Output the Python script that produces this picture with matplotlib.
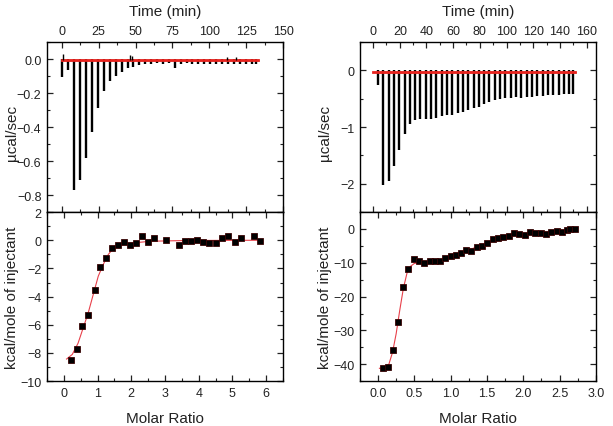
import matplotlib
matplotlib.use("Agg")
import matplotlib.pyplot as plt
from matplotlib.ticker import MultipleLocator

plt.rcParams['font.family'] = ['Liberation Sans', 'DejaVu Sans']

# ---- left experiment: raw heat (time, peak height)
t_left = [0.2, 4.5, 8.3, 12.4, 16.4, 20.5, 24.5, 28.6, 32.7, 36.5, 40.5, 44.6,
          48.6, 52.5, 56.5, 60.6, 64.6, 68.7, 72.7, 76.6, 80.6, 84.7, 88.5,
          92.6, 96.6, 100.7, 104.7, 108.8, 112.8, 116.9, 120.9, 124.8, 128.8, 132.0]
h_left = [-0.105, -0.065, -0.77, -0.71, -0.58, -0.43, -0.29, -0.19, -0.13, -0.10,
          -0.075, -0.055, -0.045, -0.036, -0.028, -0.026, -0.022, -0.028, -0.02,
          -0.055, -0.026, -0.022, -0.026, -0.026, -0.026, -0.028, -0.03, -0.028,
          -0.028, -0.028, -0.03, -0.028, -0.026, -0.03]
blip_t = [0.5, 46.5, 47.5, 112.0, 118.0]
blip_h = [0.03, 0.025, 0.02, 0.012, 0.01]

# left experiment: integrated heats
mr_left = [0.2, 0.38, 0.55, 0.73, 0.91, 1.08, 1.26, 1.44, 1.61, 1.79, 1.96, 2.14,
           2.32, 2.5, 2.68, 3.04, 3.42, 3.6, 3.77, 3.95, 4.13, 4.31, 4.5, 4.69,
           4.88, 5.07, 5.24, 5.63, 5.82]
q_left = [-8.5, -7.71, -6.12, -5.31, -3.52, -1.93, -1.29, -0.52, -0.33, -0.14,
          -0.33, -0.17, 0.33, -0.12, 0.17, 0.02, -0.31, -0.07, -0.05, 0.05, -0.12,
          -0.17, -0.21, 0.17, 0.33, -0.1, 0.17, 0.31, -0.02]
fit_x_left = [0.08, 0.25, 0.42, 0.57, 0.72, 0.87, 1.02, 1.17, 1.32, 1.47, 1.67,
              1.97, 2.57, 3.57, 4.5, 5.87]
fit_y_left = [-8.43, -8.1, -7.31, -6.24, -5.17, -3.86, -2.55, -1.71, -1.0, -0.57,
              -0.36, -0.21, -0.07, -0.02, -0.01, 0.0]

# ---- right experiment: raw heat
t_right = [3.7, 7.7, 11.7, 15.7, 19.7, 23.7, 27.7, 31.4, 35.4, 39.4, 43.4, 47.4,
           51.3, 55.3, 59.3, 63.3, 67.3, 71.3, 75.3, 79.3, 83.2, 87.2, 91.2, 95.2,
           99.2, 103.2, 107.2, 111.2, 115.1, 119.1, 123.1, 127.1, 131.1, 135.1,
           139.1, 143.0, 146.5, 150.0]
h_right = [-0.26, -2.03, -1.96, -1.69, -1.41, -1.12, -0.94, -0.87, -0.86, -0.86,
           -0.85, -0.84, -0.81, -0.79, -0.78, -0.75, -0.74, -0.69, -0.66, -0.64,
           -0.59, -0.55, -0.53, -0.51, -0.49, -0.48, -0.47, -0.48, -0.46, -0.46,
           -0.45, -0.45, -0.44, -0.44, -0.43, -0.42, -0.42, -0.41]

# right experiment: integrated heats
mr_right = [0.07, 0.14, 0.21, 0.28, 0.35, 0.42, 0.49, 0.57, 0.64, 0.71, 0.78, 0.85,
            0.92, 1.0, 1.07, 1.14, 1.21, 1.28, 1.36, 1.43, 1.5, 1.58, 1.65, 1.72,
            1.8, 1.87, 1.94, 2.02, 2.09, 2.16, 2.24, 2.31, 2.38, 2.46, 2.53, 2.6,
            2.65, 2.71]
q_right = [-41.0, -40.8, -35.7, -27.6, -17.1, -11.7, -9.0, -9.5, -10.0, -9.6, -9.5,
           -9.5, -8.6, -7.9, -7.6, -7.1, -6.2, -6.6, -5.2, -5.1, -4.0, -2.9, -2.75,
           -2.5, -2.0, -1.2, -1.6, -1.8, -1.0, -1.2, -1.1, -1.4, -1.0, -0.5, -0.8,
           -0.2, 0.0, 0.0]
fit_x_right = [0.02, 0.1, 0.15, 0.2, 0.25, 0.3, 0.35, 0.4, 0.45, 0.5, 0.6, 0.7, 0.8,
               0.9, 1.0, 1.1, 1.2, 1.3, 1.4, 1.5, 1.6, 1.7, 1.8, 1.9, 2.0, 2.1, 2.2,
               2.3, 2.4, 2.5, 2.6, 2.71]
fit_y_right = [-41.2, -40.9, -40.0, -36.5, -31.0, -24.0, -17.5, -13.0, -11.0, -10.2,
               -9.8, -9.6, -9.4, -9.0, -8.2, -7.4, -6.6, -5.8, -5.0, -4.1, -3.2, -2.6,
               -2.1, -1.6, -1.4, -1.2, -1.1, -1.0, -0.8, -0.5, -0.3, -0.05]

fig = plt.figure(figsize=(6.13, 4.27), dpi=100)

def style(ax, xmaj, xmin, ymaj, ymin):
    ax.xaxis.set_major_locator(MultipleLocator(xmaj))
    ax.xaxis.set_minor_locator(MultipleLocator(xmin))
    ax.yaxis.set_major_locator(MultipleLocator(ymaj))
    ax.yaxis.set_minor_locator(MultipleLocator(ymin))
    ax.tick_params(which='both', direction='in', top=True, bottom=True,
                   left=True, right=True, labelsize=9, colors='#222222', pad=4)
    ax.tick_params(which='major', length=4, width=0.9)
    ax.tick_params(which='minor', length=2.5, width=0.8)
    for s in ax.spines.values():
        s.set_linewidth(1.0)

def raw_panel(rect, t, h, xlim, ylim, xmaj, xmin, ymaj, ymin, fmt, base_end, base_y):
    ax = fig.add_axes(rect)
    ax.vlines(t, 0, h, color='black', lw=1.7)
    ax.plot([t[0], t[-1] + 1], [base_y, base_y], color='black', lw=1.0)
    ax.plot([0, base_end], [base_y, base_y], color='#e8231e', lw=2.0)
    ax.set_xlim(*xlim)
    ax.set_ylim(*ylim)
    style(ax, xmaj, xmin, ymaj, ymin)
    ax.tick_params(labeltop=True, labelbottom=False)
    ax.yaxis.set_major_formatter(fmt)
    ax.xaxis.set_label_position('top')
    ax.set_xlabel('Time (min)', fontsize=11, labelpad=7, color='#222222')
    ax.set_ylabel('µcal/sec', fontsize=11, color='#222222')
    ax.yaxis.set_label_coords(-0.12, 0.47)
    return ax

def heat_panel(rect, x, y, fx, fy, xlim, ylim, xmaj, xmin, ymaj, ymin, fmt):
    ax = fig.add_axes(rect)
    ax.plot(fx, fy, color='#e8404a', lw=0.8)
    ax.plot(x, y, 's', ms=4.2, mfc='black', mec='#3a0505', mew=0.6)
    ax.set_xlim(*xlim)
    ax.set_ylim(*ylim)
    style(ax, xmaj, xmin, ymaj, ymin)
    ax.xaxis.set_major_formatter(fmt)
    ax.set_xlabel('Molar Ratio', fontsize=11, labelpad=9, color='#222222')
    ax.set_ylabel('kcal/mole of injectant', fontsize=11, color='#222222')
    ax.yaxis.set_label_coords(-0.12, 0.5)
    return ax

L, R, W = 0.0767, 0.587, 0.385
top_rect_b, top_h = 0.501, 0.398
bot_rect_b, bot_h = 0.105, 0.396

ax1 = raw_panel([L, top_rect_b, W, top_h], t_left, h_left, (-10, 150), (-0.9, 0.1),
                25, 12.5, 0.2, 0.1, '{x:.1f}', 133, -0.005)
ax1.vlines(blip_t, -0.005, blip_h, color='black', lw=1.0)
ax2 = heat_panel([L, bot_rect_b, W, bot_h], mr_left, q_left, fit_x_left, fit_y_left,
                 (-0.5, 6.5), (-10, 2), 1, 0.5, 2, 1, '{x:.0f}')
ax2.yaxis.set_major_formatter('{x:.0f}')

ax3 = raw_panel([R, top_rect_b, W, top_h], t_right, h_right, (-10, 167), (-2.5, 0.5),
                20, 10, 1, 0.5, '{x:.0f}', 151, -0.02)
ax4 = heat_panel([R, bot_rect_b, W, bot_h], mr_right, q_right, fit_x_right, fit_y_right,
                 (-0.25, 3.0), (-45, 5), 0.5, 0.25, 10, 5, '{x:.1f}')
ax4.yaxis.set_major_formatter('{x:.0f}')

fig.savefig('out.png', dpi=100)
